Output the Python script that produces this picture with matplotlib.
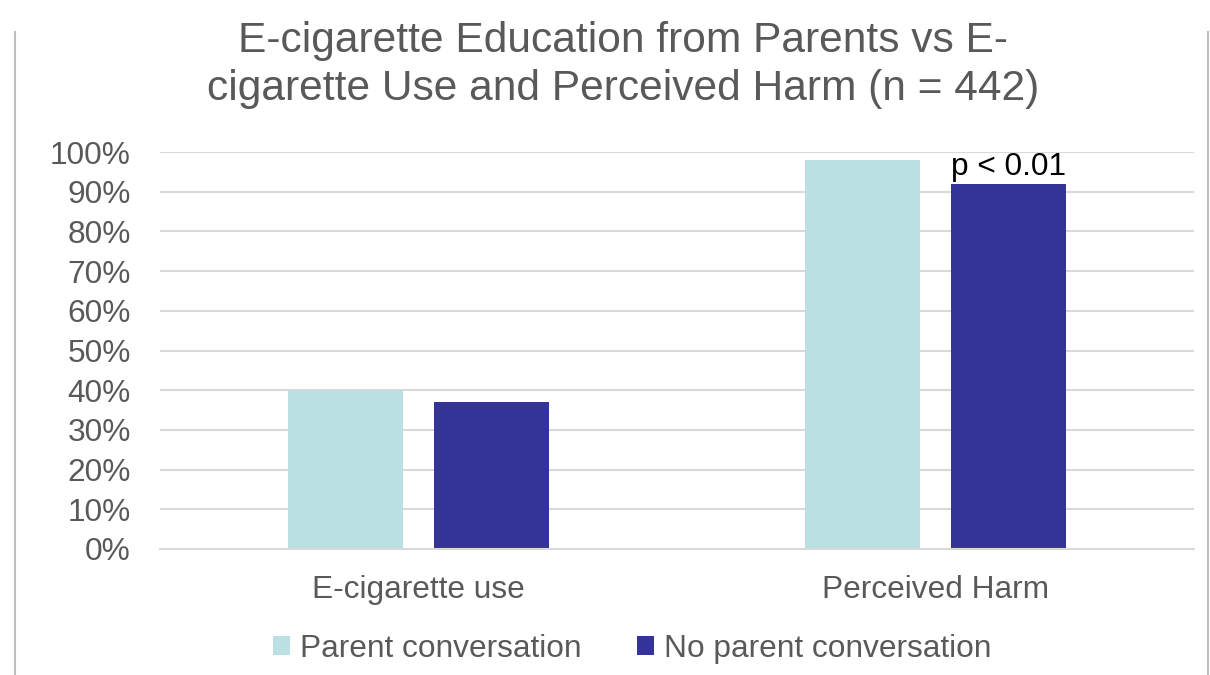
import numpy as np
import matplotlib.pyplot as plt
from matplotlib.lines import Line2D

plt.rcParams['font.family'] = ['Liberation Sans', 'DejaVu Sans']

# datos del gráfico
categorias = ["E-cigarette use", "Perceived Harm"]
series = ["Parent conversation", "No parent conversation"]
con_conversacion = [0.40, 0.98]
sin_conversacion = [0.37, 0.92]
colores = ["#BBE0E3", "#343398"]
nota = "p < 0.01"
titulo = ["E-cigarette Education from Parents vs E-",
          "cigarette Use and Perceived Harm (n = 442)"]

gris_texto = "#595959"
gris_linea = "#D9D9D9"
tam = 22.8

fig = plt.figure(figsize=(12.1, 6.75), dpi=100)
ax = fig.add_axes([160 / 1210, 1 - 549 / 675, 1034 / 1210, 397 / 675])

x = np.arange(len(categorias))
ancho = 0.2225
desp = ancho / 2 + 0.03
b1 = ax.bar(x - desp, con_conversacion, ancho, color=colores[0], label=series[0], zorder=3)
b2 = ax.bar(x + desp, sin_conversacion, ancho, color=colores[1], label=series[1], zorder=3)

# nota de significancia sobre la barra de Perceived Harm
ax.annotate(nota, (x[1] + desp, sin_conversacion[1]), xytext=(0, 1),
            textcoords="offset points", ha="center", va="bottom",
            fontsize=tam, color="black", zorder=4)

ax.set_xlim(-0.5, 1.5)
ax.set_ylim(0, 1.0)
ax.set_yticks(np.arange(0, 1.01, 0.1))
ax.set_yticklabels([f"{int(round(v * 100))}%" for v in np.arange(0, 1.01, 0.1)])
ax.set_xticks(x)
ax.set_xticklabels(categorias)
ax.tick_params(axis="y", length=0, pad=21, labelsize=tam, labelcolor=gris_texto)
ax.tick_params(axis="x", length=0, pad=19, labelsize=tam, labelcolor=gris_texto)
ax.grid(axis="y", color=gris_linea, linewidth=1.5, zorder=0)
for lado in ["top", "right", "left"]:
    ax.spines[lado].set_visible(False)
ax.spines["bottom"].set_color(gris_linea)
ax.spines["bottom"].set_linewidth(1.5)
ax.spines["bottom"].set_zorder(4)

# título en dos líneas
for linea, base in zip(titulo, [52, 100]):
    fig.text(623 / 1210, 1 - base / 675, linea, ha="center", va="baseline",
             fontsize=30.6, color=gris_texto)

fig.legend(handles=[b1, b2], loc="center", bbox_to_anchor=(632 / 1210, 1 - 649 / 675),
           ncol=2, frameon=False, fontsize=tam, labelcolor=gris_texto,
           handlelength=0.55, handleheight=0.55, handletextpad=0.3, columnspacing=1.75)

# bordes laterales
fig.add_artist(Line2D([15 / 1210, 15 / 1210], [0, 1 - 32 / 675], color="#BFBFBF", lw=1.5))
fig.add_artist(Line2D([1208 / 1210, 1208 / 1210], [0, 1 - 32 / 675], color="#BFBFBF", lw=1.5))

fig.savefig("out.png", dpi=100)
